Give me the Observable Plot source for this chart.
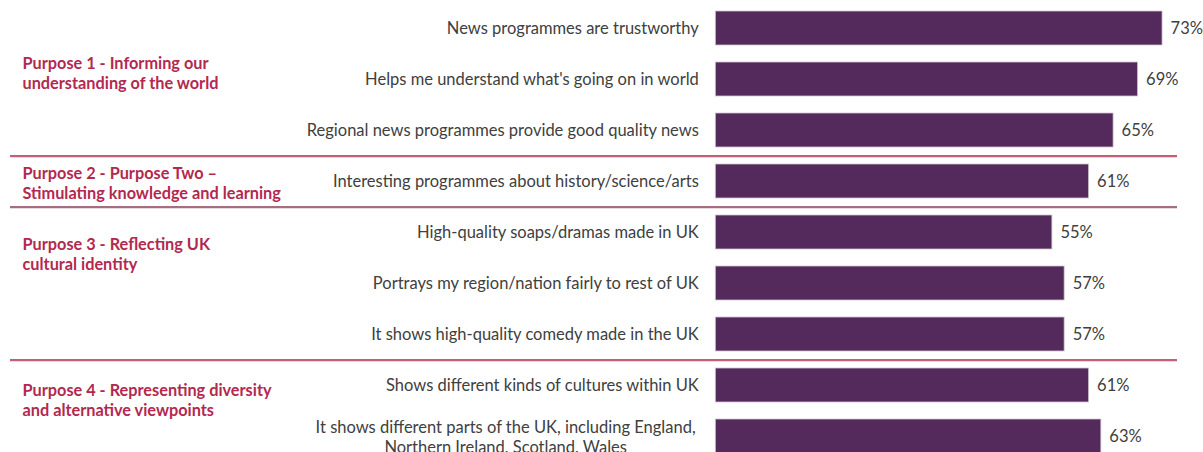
<!DOCTYPE html>
<html>
<head>
<meta charset="utf-8">
<script src="https://cdn.jsdelivr.net/npm/d3@7"></script>
<script src="https://cdn.jsdelivr.net/npm/@observablehq/plot@0.6"></script>
<style>
  html, body { margin: 0; padding: 0; background: #fff; overflow: hidden; }
  #chart { width: 1203px; height: 452px; overflow: hidden; }
</style>
</head>
<body>
<div id="chart"></div>
<script>
// ---- data ----
const categories = [
  "News programmes are trustworthy",
  "Helps me understand what's going on in world",
  "Regional news programmes provide good quality news",
  "Interesting programmes about history/science/arts",
  "High-quality soaps/dramas made in UK",
  "Portrays my region/nation fairly to rest of UK",
  "It shows high-quality comedy made in the UK",
  "Shows different kinds of cultures within UK",
  "It shows different parts of the UK, including England,\nNorthern Ireland, Scotland, Wales"
];
const values = [73, 69, 65, 61, 55, 57, 57, 61, 63];
const groupOf = [1, 1, 1, 2, 3, 3, 3, 4, 4];
const groupLabels = [
  "Purpose 1 - Informing our\nunderstanding of the world",
  "Purpose 2 - Purpose Two –\nStimulating knowledge and learning",
  "Purpose 3 - Reflecting UK\ncultural identity",
  "Purpose 4 - Representing diversity\nand alternative viewpoints"
];
// category next to which each group label sits
const groupLabelAnchor = [categories[1], categories[3], categories[4], categories[7]];

// ---- derived table ----
const rows = categories.map((c, i) => ({category: c, value: values[i], group: groupOf[i]}));
const separators = rows.filter((r, i) => i < rows.length - 1 && rows[i + 1].group !== r.group);

const FONT = "Lato, 'Open Sans', sans-serif";
const barColor = "#54295b";
const labelColor = "#404040";
const groupColor = "#b3284f";
const lineColors = ["#c45f78", "#a66c80", "#c45f78"];
const catSize = 16.5;
const grpSize = 16.3;

const singleRows = rows.filter(r => !r.category.includes("\n"));
const multiRows = rows.filter(r => r.category.includes("\n"));

const ctx = document.createElement("canvas").getContext("2d");
ctx.font = catSize + "px Lato";
const multiWidth = multiRows.length ? d3.max(multiRows[0].category.split("\n"), s => ctx.measureText(s).width) : 0;

const step = 51.1;
const groupDy = [-7, 1, 21, 14];

const marks = [
  Plot.barX(rows, {y: "category", x: "value", fill: barColor, stroke: "#cfc6d2", strokeWidth: 0.8}),
  Plot.text(rows, {y: "category", x: "value", text: d => d.value + "%", dx: 8, textAnchor: "start",
    fill: labelColor, fontSize: catSize, fontFamily: FONT}),
  Plot.text(singleRows, {y: "category", x: 0, text: "category", dx: -17, textAnchor: "end",
    fill: labelColor, fontSize: catSize, fontFamily: FONT}),
  Plot.text(multiRows, {y: "category", x: 0, text: "category", dx: -20 - multiWidth / 2, textAnchor: "middle",
    lineHeight: 1.22, fill: labelColor, fontSize: catSize, fontFamily: FONT}),
  ...separators.map((s, i) => Plot.ruleY([s], {y: "category", dy: step / 2, stroke: lineColors[i], strokeWidth: 2.2})),
  ...groupLabels.map((g, i) => Plot.text([g], {y: () => groupLabelAnchor[i], frameAnchor: "left", text: d => d,
    dx: 12, dy: groupDy[i], textAnchor: "start", lineHeight: 1.26, fill: groupColor, fontSize: grpSize,
    fontWeight: "bold", fontFamily: FONT}))
];

const chart = Plot.plot({
  width: 1203,
  height: 452,
  marginLeft: 10,
  marginRight: 26,
  marginTop: 0,
  marginBottom: 0,
  style: {fontFamily: FONT, background: "#fff"},
  x: {domain: [0, 80], range: [715.3, 715.3 + 80 * 6.12], axis: null},
  y: {domain: categories, range: [-6.1, -6.1 + step * 9.335], padding: 0.335, axis: null},
  marks
});
document.getElementById("chart").appendChild(chart);
</script>
</body>
</html>
